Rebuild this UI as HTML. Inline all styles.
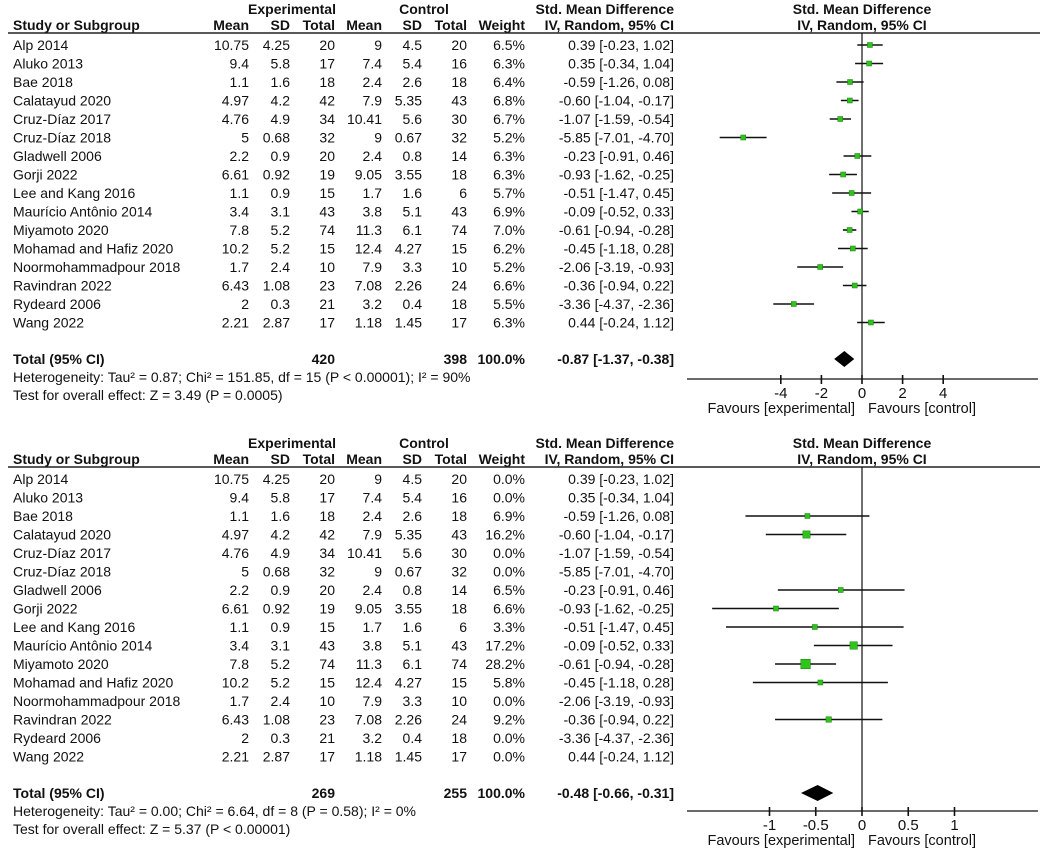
<!DOCTYPE html>
<html><head><meta charset="utf-8"><style>
html,body{margin:0;padding:0;background:#fff;}
svg{display:block;font-family:"Liberation Sans",Arial,sans-serif;}
</style></head><body>
<svg id="c" width="1052" height="852" xmlns="http://www.w3.org/2000/svg"></svg>
<script>
const studies=["Alp 2014","Aluko 2013","Bae 2018","Calatayud 2020","Cruz-Díaz 2017","Cruz-Díaz 2018","Gladwell 2006","Gorji 2022","Lee and Kang 2016","Maurício Antônio 2014","Miyamoto 2020","Mohamad and Hafiz 2020","Noormohammadpour 2018","Ravindran 2022","Rydeard 2006","Wang 2022"];
const expMean=["10.75","9.4","1.1","4.97","4.76","5","2.2","6.61","1.1","3.4","7.8","10.2","1.7","6.43","2","2.21"];
const expSD=["4.25","5.8","1.6","4.2","4.9","0.68","0.9","0.92","0.9","3.1","5.2","5.2","2.4","1.08","0.3","2.87"];
const expN=["20","17","18","42","34","32","20","19","15","43","74","15","10","23","21","17"];
const ctlMean=["9","7.4","2.4","7.9","10.41","9","2.4","9.05","1.7","3.8","11.3","12.4","7.9","7.08","3.2","1.18"];
const ctlSD=["4.5","5.4","2.6","5.35","5.6","0.67","0.8","3.55","1.6","5.1","6.1","4.27","3.3","2.26","0.4","1.45"];
const ctlN=["20","16","18","43","30","32","14","18","6","43","74","15","10","24","18","17"];
const smd=[0.39,0.35,-0.59,-0.60,-1.07,-5.85,-0.23,-0.93,-0.51,-0.09,-0.61,-0.45,-2.06,-0.36,-3.36,0.44];
const lo=[-0.23,-0.34,-1.26,-1.04,-1.59,-7.01,-0.91,-1.62,-1.47,-0.52,-0.94,-1.18,-3.19,-0.94,-4.37,-0.24];
const hi=[1.02,1.04,0.08,-0.17,-0.54,-4.70,0.46,-0.25,0.45,0.33,-0.28,0.28,-0.93,0.22,-2.36,1.12];
const weight1=[6.5,6.3,6.4,6.8,6.7,5.2,6.3,6.3,5.7,6.9,7.0,6.2,5.2,6.6,5.5,6.3];
const weight2=[0,0,6.9,16.2,0,0,6.5,6.6,3.3,17.2,28.2,5.8,0,9.2,0,0];
const ticks1=[-4,-2,0,2,4];
const ticks2=[-1,-0.5,0,0.5,1];
const tickLbl2=["-1","-0.5","0","0.5","1"];
const panels=[
 {top:0,w:weight1,ticks:ticks1,lbl:["-4","-2","0","2","4"],scale:20.3,totE:"420",totC:"398",est:-0.87,elo:-1.37,ehi:-0.38,estTxt:"-0.87 [-1.37, -0.38]",
  het:"Heterogeneity: Tau² = 0.87; Chi² = 151.85, df = 15 (P < 0.00001); I² = 90%",test:"Test for overall effect: Z = 3.49 (P = 0.0005)",axisY:379},
 {top:434,w:weight2,ticks:ticks2,lbl:tickLbl2,scale:92.5,totE:"269",totC:"255",est:-0.48,elo:-0.66,ehi:-0.31,estTxt:"-0.48 [-0.66, -0.31]",
  het:"Heterogeneity: Tau² = 0.00; Chi² = 6.64, df = 8 (P = 0.58); I² = 0%",test:"Test for overall effect: Z = 5.37 (P < 0.00001)",axisY:811}
];
const svg=document.getElementById('c');
const NS="http://www.w3.org/2000/svg";
function el(tag,attrs,parent){const e=document.createElementNS(NS,tag);for(const k in attrs)e.setAttribute(k,attrs[k]);(parent||svg).appendChild(e);return e;}
function txt(s,x,y,opt,name){opt=opt||{};const t=el('text',{x:x,y:y,'font-size':opt.size||14,'text-anchor':opt.anchor||'start','font-weight':opt.bold?'bold':'normal',fill:'#111'});t.textContent=s;


return t;}
panels.forEach((p,pi)=>{
 const T=p.top;
 const X0=862;
 const sx=v=>X0+v*p.scale;
 txt("Experimental",292,T+14,{bold:true,anchor:'middle'},'experimental-header');
 txt("Control",424,T+14,{bold:true,anchor:'middle'},'control-header');
 txt("Std. Mean Difference",674,T+14,{bold:true,anchor:'end'},'smd-header');
 txt("Std. Mean Difference",X0,T+14,{bold:true,anchor:'middle'},'plot-header');
 txt("Study or Subgroup",13,T+30,{bold:true},'study-header');
 [["Mean",249],["SD",290],["Total",335],["Mean",382],["SD",422],["Total",467],["Weight",525],["IV, Random, 95% CI",674]].forEach(h=>txt(h[0],h[1],T+30,{bold:true,anchor:'end'},'column-header'));
 txt("IV, Random, 95% CI",X0,T+30,{bold:true,anchor:'middle'},'plot-subheader');
 const hl=el('line',{x1:8,x2:1040,y1:T+33,y2:T+33,stroke:'#222','stroke-width':1.5});
 
 
 const zl=el('line',{x1:sx(0),x2:sx(0),y1:T+33,y2:p.axisY,stroke:'#111','stroke-width':1.2});
 
 
 const y0=T+50, dy=18.5;
 studies.forEach((s,i)=>{
  const y=y0+i*dy;
  txt(s,13,y,{},'study-name');
  txt(expMean[i],249,y,{anchor:'end'},'exp-mean');
  txt(expSD[i],290,y,{anchor:'end'},'exp-sd');
  txt(expN[i],335,y,{anchor:'end'},'exp-total');
  txt(ctlMean[i],382,y,{anchor:'end'},'ctl-mean');
  txt(ctlSD[i],422,y,{anchor:'end'},'ctl-sd');
  txt(ctlN[i],467,y,{anchor:'end'},'ctl-total');
  txt(p.w[i].toFixed(1)+"%",525,y,{anchor:'end'},'weight');
  txt(smd[i].toFixed(2)+" ["+lo[i].toFixed(2)+", "+hi[i].toFixed(2)+"]",674,y,{anchor:'end'},'smd-ci');
  if(p.w[i]>0){
   const cy=y-5;
   const l=el('line',{x1:Math.max(687,sx(lo[i])),x2:Math.min(1038,sx(hi[i])),y1:cy,y2:cy,stroke:'#111','stroke-width':1.6});
   
   
   const sz=pi===0?5:Math.max(5,Math.sqrt(p.w[i])*1.8);
   const r=el('rect',{x:sx(smd[i])-sz/2,y:cy-sz/2,width:sz,height:sz,fill:'#2ec41a',stroke:'#1a7a10','stroke-width':0.5});
   
   
  }
 });
 const ty=y0+16*dy+18;
 txt("Total (95% CI)",13,ty,{bold:true},'total-label');
 txt(p.totE,335,ty,{bold:true,anchor:'end'},'total-exp');
 txt(p.totC,467,ty,{bold:true,anchor:'end'},'total-ctl');
 txt("100.0%",525,ty,{bold:true,anchor:'end'},'total-weight');
 txt(p.estTxt,674,ty,{bold:true,anchor:'end'},'total-smd');
 const dcy=ty-5;
 const d=el('polygon',{points:`${sx(p.elo)},${dcy} ${sx(p.est)},${dcy-8} ${sx(p.ehi)},${dcy} ${sx(p.est)},${dcy+8}`,fill:'#000'});
 
 
 txt(p.het,13,ty+18,{},'heterogeneity-text');
 txt(p.test,13,ty+36,{},'overall-effect-text');
 const ax=el('line',{x1:687,x2:1038,y1:p.axisY,y2:p.axisY,stroke:'#111','stroke-width':1.3});
 
 
 p.ticks.forEach((t,k)=>{
  const tk=el('line',{x1:sx(t),x2:sx(t),y1:p.axisY-4,y2:p.axisY+5,stroke:'#111','stroke-width':1.6});
  
  
  txt(p.lbl[k],sx(t),p.axisY+19,{anchor:'middle',size:15},'x-tick-label');
 });
 txt("Favours [experimental]",855,p.axisY+34,{anchor:'end',size:14.5},'favours-experimental');
 txt("Favours [control]",868,p.axisY+34,{size:14.5},'favours-control');
});
</script>
</body></html>
